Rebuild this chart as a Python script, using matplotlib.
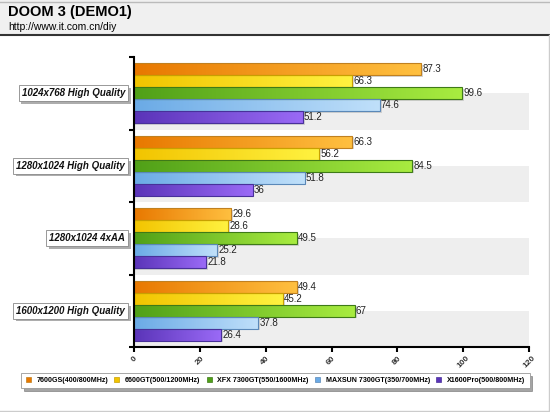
import numpy as np
import matplotlib
matplotlib.use("Agg")
import matplotlib.pyplot as plt
import matplotlib.patheffects as pe
from matplotlib.patches import Rectangle
from matplotlib.colors import LinearSegmentedColormap

plt.rcParams['font.family'] = ['Liberation Sans', 'DejaVu Sans']

categories = ['1024x768 High Quality', '1280x1024 High Quality',
              '1280x1024 4xAA', '1600x1200 High Quality']
series = ['7600GS(400/800MHz)', '6600GT(500/1200MHz)', 'XFX 7300GT(550/1600MHz)',
          'MAXSUN 7300GT(350/700MHz)', 'X1600Pro(500/800MHz)']
gs7600 = [87.3, 66.3, 29.6, 49.4]
gt6600 = [66.3, 56.2, 28.6, 45.2]
xfx7300 = [99.6, 84.5, 49.5, 67]
maxsun7300 = [74.6, 51.8, 25.2, 37.8]
x1600pro = [51.2, 36, 21.8, 26.4]
values = [gs7600, gt6600, xfx7300, maxsun7300, x1600pro]
xticks = [0, 20, 40, 60, 80, 100, 120]

# left colour, right colour, edge colour
grads = [('#E87800', '#FFC040', '#C08020'),
         ('#F2C400', '#FFF240', '#C8A000'),
         ('#50A018', '#A8EC40', '#3E7A18'),
         ('#6AAAE6', '#C0E0FA', '#5A88B8'),
         ('#5A34B8', '#9A6AF6', '#48309A')]

W, H = 550, 412
fig = plt.figure(figsize=(W / 100, H / 100), dpi=100)

# header band
fig.patches.append(Rectangle((0, 1 - 35 / H), 1, 35 / H, transform=fig.transFigure,
                             facecolor='#F0F0F0', edgecolor='none', zorder=0))
fig.lines.append(plt.Line2D([0, 1], [1 - 35 / H] * 2, transform=fig.transFigure,
                            color='#333333', lw=1.5))
fig.lines.append(plt.Line2D([0, 1], [1 - 1.5 / H] * 2, transform=fig.transFigure,
                            color='#BBBBBB', lw=1))
fig.lines.append(plt.Line2D([548.5 / W] * 2, [0, 1 - 35 / H], transform=fig.transFigure,
                            color='#CCCCCC', lw=1))
fig.lines.append(plt.Line2D([0, 548.5 / W], [1.5 / H] * 2, transform=fig.transFigure,
                            color='#CCCCCC', lw=1))
fig.text(8 / W, 1 - 12 / H, 'DOOM 3 (DEMO1)', fontsize=10.5, fontweight='bold',
         va='center', ha='left')
fig.text(8 / W, 1 - 27 / H, 'http://www.it.com.cn/diy', fontsize=7.5,
         va='center', ha='left')

x0, x1, y0, y1 = 134, 529, 57, 347
ax = fig.add_axes([x0 / W, 1 - y1 / H, (x1 - x0) / W, (y1 - y0) / H])

for i in range(len(categories)):
    ax.axhspan(i, i + 0.5, color='#EEEEEE', zorder=0, lw=0)

bh = 0.166
for k, vals in enumerate(values):
    c0, c1, ec = grads[k]
    cmap = LinearSegmentedColormap.from_list('g%d' % k, [c0, c1])
    grad = np.linspace(0, 1, 256).reshape(1, -1)
    for i, v in enumerate(vals):
        yc = i + (k - 2) * bh
        # shadow
        ax.add_patch(Rectangle((0, yc - bh / 2 + 0.02), v + 0.6, bh, facecolor='#BBBBBB',
                               edgecolor='none', zorder=1, alpha=0.6))
        rect = Rectangle((0, yc - bh / 2), v, bh, facecolor='none', edgecolor=ec,
                         lw=0.8, zorder=3)
        ax.add_patch(rect)
        im = ax.imshow(grad, cmap=cmap, aspect='auto', zorder=2,
                       extent=[0, v, yc + bh / 2, yc - bh / 2])
        im.set_clip_path(rect)
        ax.text(v + 0.4, yc, f'{v:g}', fontsize=7, va='center', ha='left',
                color='#222222', zorder=4)

ax.set_xlim(0, 120)
ax.set_ylim(3.5, -0.5)

for s in ['top', 'right']:
    ax.spines[s].set_visible(False)
for s in ['left', 'bottom']:
    ax.spines[s].set_linewidth(1.5)
    ax.spines[s].set_zorder(5)

ax.set_yticks(np.arange(-0.5, 4, 1))
ax.set_yticklabels([])
ax.tick_params(axis='y', direction='out', length=3.5, width=1.5)
ax.set_xticks(xticks)
ax.set_xticklabels([str(t) for t in xticks], rotation=45, fontsize=6,
                   fontweight='bold', color='#333333')
ax.tick_params(axis='x', direction='out', length=3.5, width=1.5, pad=2)

# category labels with shadowed boxes
for i, cat in enumerate(categories):
    t = ax.annotate(cat, xy=(0, i), xycoords=('axes fraction', 'data'),
                    xytext=(-6.5, 0), textcoords='offset points', ha='right', va='center',
                    fontsize=7, fontweight='bold', style='italic', color='#111111',
                    bbox=dict(boxstyle='square,pad=0.3', fc='white', ec='#888888', lw=0.6))
    t.get_bbox_patch().set_path_effects([
        pe.SimplePatchShadow(offset=(2, -2), shadow_rgbFace='#999999', alpha=0.8),
        pe.Normal()])

handles = [Rectangle((0, 0), 1, 1, facecolor=g[0], edgecolor=g[2], lw=0.5) for g in grads]
leg = fig.legend(handles, series, loc='center', ncol=5,
                 bbox_to_anchor=(275.5 / W, 1 - 380.5 / H),
                 handlelength=0.7, handleheight=0.7, handletextpad=0.8,
                 borderpad=0.6, columnspacing=0.9, fancybox=False, shadow=True,
                 edgecolor='#999999', prop={'weight': 'bold', 'size': 5.1})
leg.get_frame().set_linewidth(0.6)

fig.savefig('out.png', dpi=100)
